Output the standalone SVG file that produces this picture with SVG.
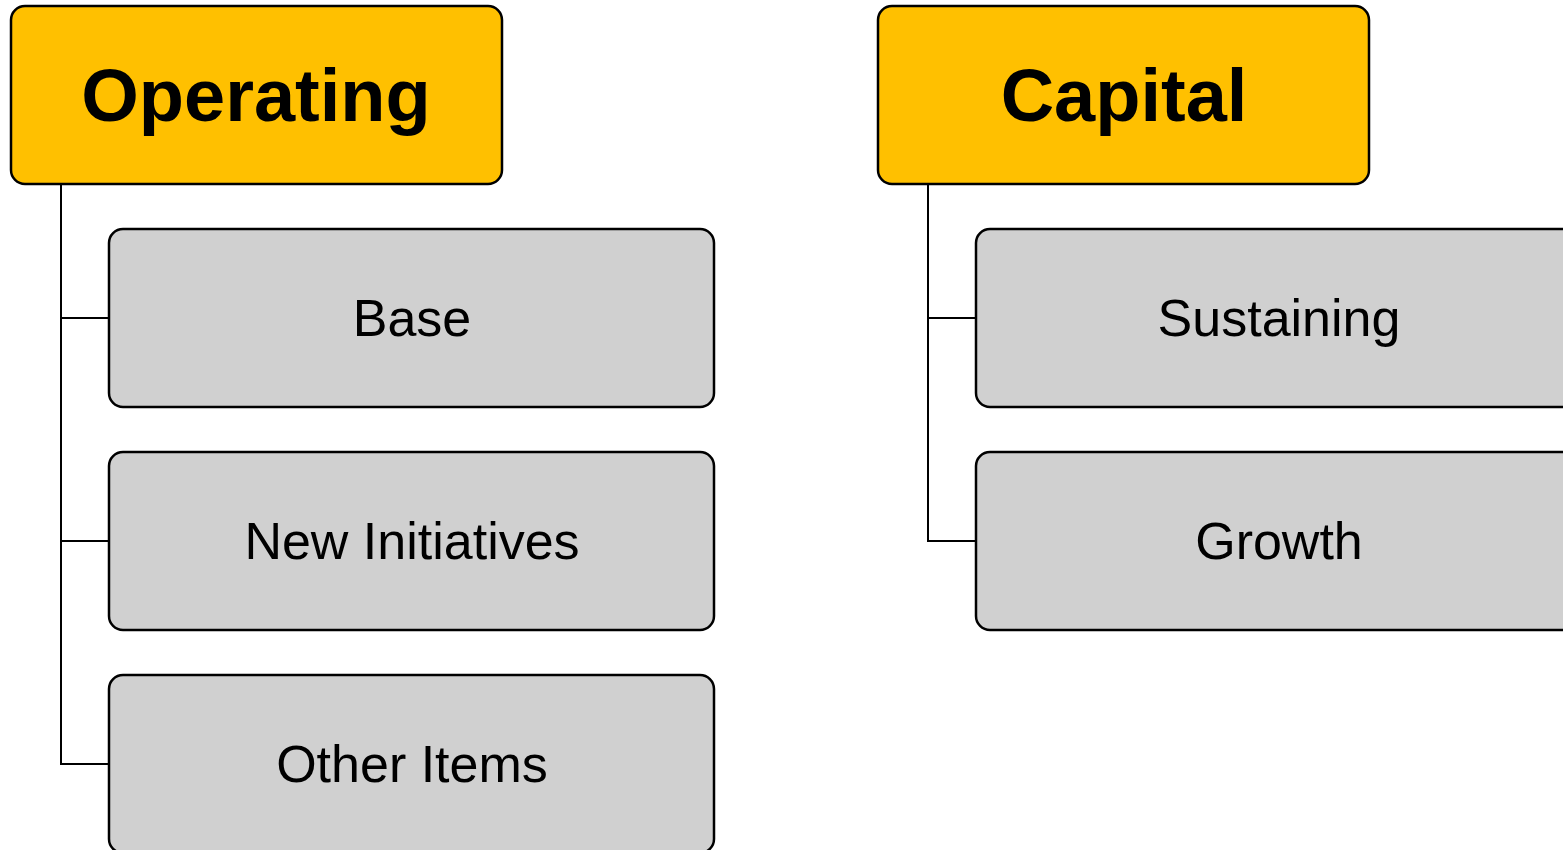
<svg xmlns="http://www.w3.org/2000/svg" width="1563" height="850" viewBox="0 0 1563 850">
  <style>
    .head rect { fill: #FFC000; stroke: #000; stroke-width: 2.5; }
    .item rect { fill: #D0D0D0; stroke: #000; stroke-width: 2.5; }
    .head text { font-family: "Liberation Sans", Arial, sans-serif; font-weight: bold; font-size: 74px; fill: #000; text-anchor: middle; }
    .item text { font-family: "Liberation Sans", Arial, sans-serif; font-size: 52px; fill: #000; text-anchor: middle; }
    #connectors path { fill: none; stroke: #000; stroke-width: 2; }
  </style>
  <rect width="1563" height="850" fill="#fff"/>

  <g id="connectors">
    <path d="M61 184 V764 H109 M61 318 H109 M61 541 H109"/>
    <path d="M928 184 V541 H976 M928 318 H976"/>
  </g>

  <g id="operating" class="head">
    <rect x="11" y="6" width="491" height="178" rx="14"/>
    <text x="256" y="121">Operating</text>
  </g>
  <g id="base" class="item">
    <rect x="109" y="229" width="605" height="178" rx="14"/>
    <text x="412" y="336">Base</text>
  </g>
  <g id="new-initiatives" class="item">
    <rect x="109" y="452" width="605" height="178" rx="14"/>
    <text x="412" y="559">New Initiatives</text>
  </g>
  <g id="other-items" class="item">
    <rect x="109" y="675" width="605" height="178" rx="14"/>
    <text x="412" y="782">Other Items</text>
  </g>

  <g id="capital" class="head">
    <rect x="878" y="6" width="491" height="178" rx="14"/>
    <text x="1124" y="121">Capital</text>
  </g>
  <g id="sustaining" class="item">
    <rect x="976" y="229" width="605" height="178" rx="14"/>
    <text x="1279" y="336">Sustaining</text>
  </g>
  <g id="growth" class="item">
    <rect x="976" y="452" width="605" height="178" rx="14"/>
    <text x="1279" y="559">Growth</text>
  </g>
</svg>
